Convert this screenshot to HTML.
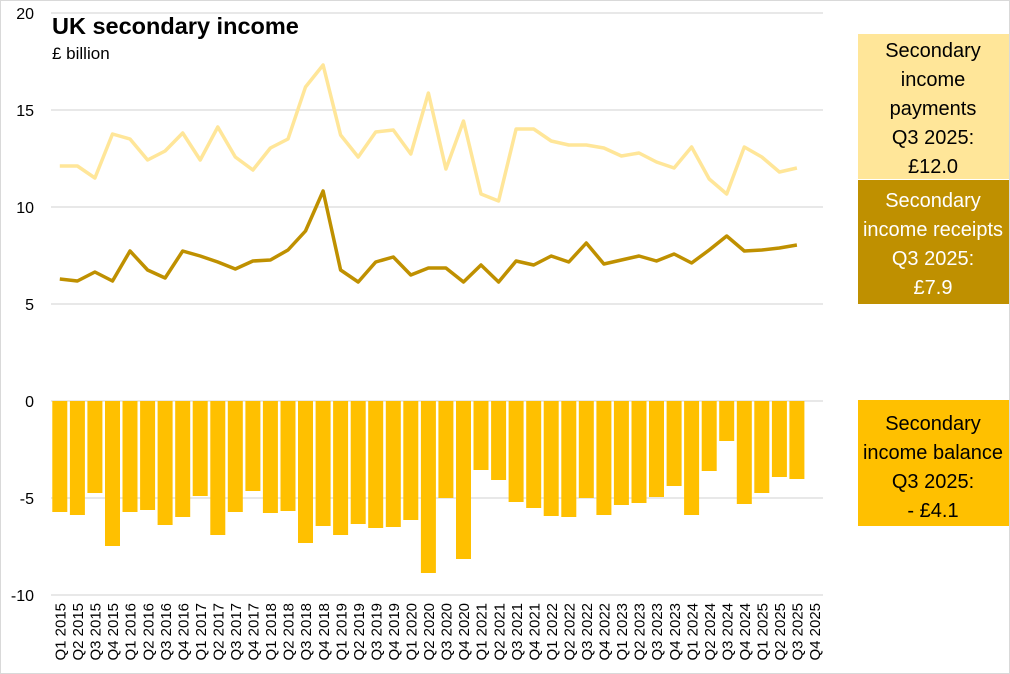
<!DOCTYPE html>
<html><head><meta charset="utf-8"><style>
body{margin:0;background:#fff;overflow:hidden;}
svg{display:block;font-family:"Liberation Sans",sans-serif;}
</style></head><body>
<svg width="1010" height="674" viewBox="0 0 1010 674" xmlns="http://www.w3.org/2000/svg">
<rect x="0.5" y="0.5" width="1009" height="673" fill="#fff" stroke="#d9d9d9"/>
<g stroke="#d9d9d9" stroke-width="1.3">
<line x1="51" x2="823" y1="13" y2="13"/><line x1="51" x2="823" y1="110" y2="110"/>
<line x1="51" x2="823" y1="207" y2="207"/><line x1="51" x2="823" y1="304" y2="304"/>
<line x1="51" x2="823" y1="401" y2="401"/><line x1="51" x2="823" y1="498" y2="498"/>
<line x1="51" x2="823" y1="595" y2="595"/>
</g>
<g font-size="16" fill="#000" text-anchor="end">
<text x="34" y="19">20</text><text x="34" y="116">15</text><text x="34" y="213">10</text>
<text x="34" y="310">5</text><text x="34" y="407">0</text><text x="34" y="504">-5</text><text x="34" y="601">-10</text>
</g>
<text x="52" y="34" font-size="23.5" font-weight="bold">UK secondary income</text>
<text x="52" y="59" font-size="17">£ billion</text>
<g fill="#FFC000">
<rect x="52.3" y="401" width="15" height="111"/><rect x="69.9" y="401" width="15" height="114"/>
<rect x="87.4" y="401" width="15" height="92"/><rect x="105" y="401" width="15" height="145"/>
<rect x="122.5" y="401" width="15" height="111"/><rect x="140.1" y="401" width="15" height="109"/>
<rect x="157.6" y="401" width="15" height="124"/><rect x="175.2" y="401" width="15" height="116"/>
<rect x="192.7" y="401" width="15" height="95"/><rect x="210.3" y="401" width="15" height="134"/>
<rect x="227.8" y="401" width="15" height="111"/><rect x="245.4" y="401" width="15" height="90"/>
<rect x="262.9" y="401" width="15" height="112"/><rect x="280.5" y="401" width="15" height="110"/>
<rect x="298" y="401" width="15" height="142"/><rect x="315.6" y="401" width="15" height="125"/>
<rect x="333.1" y="401" width="15" height="134"/><rect x="350.7" y="401" width="15" height="123"/>
<rect x="368.2" y="401" width="15" height="127"/><rect x="385.8" y="401" width="15" height="126"/>
<rect x="403.3" y="401" width="15" height="119"/><rect x="420.9" y="401" width="15" height="172"/>
<rect x="438.4" y="401" width="15" height="97"/><rect x="456" y="401" width="15" height="158"/>
<rect x="473.5" y="401" width="15" height="69"/><rect x="491.1" y="401" width="15" height="79"/>
<rect x="508.6" y="401" width="15" height="101"/><rect x="526.2" y="401" width="15" height="107"/>
<rect x="543.7" y="401" width="15" height="115"/><rect x="561.3" y="401" width="15" height="116"/>
<rect x="578.8" y="401" width="15" height="97"/><rect x="596.4" y="401" width="15" height="114"/>
<rect x="613.9" y="401" width="15" height="104"/><rect x="631.5" y="401" width="15" height="102"/>
<rect x="649" y="401" width="15" height="96"/><rect x="666.6" y="401" width="15" height="85"/>
<rect x="684.1" y="401" width="15" height="114"/><rect x="701.7" y="401" width="15" height="70"/>
<rect x="719.2" y="401" width="15" height="40"/><rect x="736.8" y="401" width="15" height="103"/>
<rect x="754.3" y="401" width="15" height="92"/><rect x="771.9" y="401" width="15" height="76"/>
<rect x="789.4" y="401" width="15" height="78"/>
</g>
<polyline fill="none" stroke="#FFE699" stroke-width="3.5" stroke-linejoin="round" points="59.8,166 77.4,166 94.9,178 112.5,134 130,139 147.6,160 165.1,151 182.7,133 200.2,160 217.8,127 235.3,157 252.9,170 270.4,148 288,139 305.5,87 323.1,65 340.6,135 358.2,157 375.7,132 393.3,130 410.8,154 428.4,93 445.9,169 463.5,121 481,194 498.6,201 516.1,129 533.7,129 551.2,141 568.8,145 586.3,145 603.9,148 621.4,156 639,153 656.5,162 674.1,168 691.6,147 709.2,179 726.7,194 744.3,147 761.8,157 779.4,172 796.9,168"/>
<polyline fill="none" stroke="#BF9000" stroke-width="3.5" stroke-linejoin="round" points="59.8,279 77.4,281 94.9,272 112.5,281 130,251 147.6,270 165.1,278 182.7,251 200.2,256 217.8,262 235.3,269 252.9,261 270.4,260 288,250 305.5,231 323.1,191 340.6,270 358.2,282 375.7,262 393.3,257 410.8,275 428.4,268 445.9,268 463.5,282 481,265 498.6,282 516.1,261 533.7,265 551.2,256 568.8,262 586.3,243 603.9,264 621.4,260 639,256 656.5,261 674.1,254 691.6,263 709.2,250 726.7,236 744.3,251 761.8,250 779.4,248 796.9,245"/>
<g font-size="15" fill="#000" text-anchor="end">
<text transform="translate(65.5,603) rotate(-90)">Q1 2015</text><text transform="translate(83.1,603) rotate(-90)">Q2 2015</text>
<text transform="translate(100.6,603) rotate(-90)">Q3 2015</text><text transform="translate(118.2,603) rotate(-90)">Q4 2015</text>
<text transform="translate(135.7,603) rotate(-90)">Q1 2016</text><text transform="translate(153.3,603) rotate(-90)">Q2 2016</text>
<text transform="translate(170.8,603) rotate(-90)">Q3 2016</text><text transform="translate(188.4,603) rotate(-90)">Q4 2016</text>
<text transform="translate(205.9,603) rotate(-90)">Q1 2017</text><text transform="translate(223.5,603) rotate(-90)">Q2 2017</text>
<text transform="translate(241,603) rotate(-90)">Q3 2017</text><text transform="translate(258.6,603) rotate(-90)">Q4 2017</text>
<text transform="translate(276.1,603) rotate(-90)">Q1 2018</text><text transform="translate(293.7,603) rotate(-90)">Q2 2018</text>
<text transform="translate(311.2,603) rotate(-90)">Q3 2018</text><text transform="translate(328.8,603) rotate(-90)">Q4 2018</text>
<text transform="translate(346.3,603) rotate(-90)">Q1 2019</text><text transform="translate(363.9,603) rotate(-90)">Q2 2019</text>
<text transform="translate(381.4,603) rotate(-90)">Q3 2019</text><text transform="translate(399,603) rotate(-90)">Q4 2019</text>
<text transform="translate(416.5,603) rotate(-90)">Q1 2020</text><text transform="translate(434.1,603) rotate(-90)">Q2 2020</text>
<text transform="translate(451.6,603) rotate(-90)">Q3 2020</text><text transform="translate(469.2,603) rotate(-90)">Q4 2020</text>
<text transform="translate(486.7,603) rotate(-90)">Q1 2021</text><text transform="translate(504.3,603) rotate(-90)">Q2 2021</text>
<text transform="translate(521.8,603) rotate(-90)">Q3 2021</text><text transform="translate(539.4,603) rotate(-90)">Q4 2021</text>
<text transform="translate(556.9,603) rotate(-90)">Q1 2022</text><text transform="translate(574.5,603) rotate(-90)">Q2 2022</text>
<text transform="translate(592,603) rotate(-90)">Q3 2022</text><text transform="translate(609.6,603) rotate(-90)">Q4 2022</text>
<text transform="translate(627.1,603) rotate(-90)">Q1 2023</text><text transform="translate(644.7,603) rotate(-90)">Q2 2023</text>
<text transform="translate(662.2,603) rotate(-90)">Q3 2023</text><text transform="translate(679.8,603) rotate(-90)">Q4 2023</text>
<text transform="translate(697.3,603) rotate(-90)">Q1 2024</text><text transform="translate(714.9,603) rotate(-90)">Q2 2024</text>
<text transform="translate(732.4,603) rotate(-90)">Q3 2024</text><text transform="translate(750,603) rotate(-90)">Q4 2024</text>
<text transform="translate(767.5,603) rotate(-90)">Q1 2025</text><text transform="translate(785.1,603) rotate(-90)">Q2 2025</text>
<text transform="translate(802.6,603) rotate(-90)">Q3 2025</text><text transform="translate(820.2,603) rotate(-90)">Q4 2025</text>
</g>
<rect x="858" y="34" width="151" height="145" fill="#FFE699"/>
<rect x="858" y="180" width="151" height="124" fill="#BF9000"/>
<rect x="858" y="400" width="151" height="126" fill="#FFC000"/>
<g font-size="20" text-anchor="middle">
<g fill="#000"><text x="933" y="57">Secondary</text><text x="933" y="86">income</text><text x="933" y="115">payments</text><text x="933" y="144">Q3 2025:</text><text x="933" y="173">£12.0</text></g>
<g fill="#fff"><text x="933" y="207">Secondary</text><text x="933" y="236">income receipts</text><text x="933" y="265">Q3 2025:</text><text x="933" y="294">£7.9</text></g>
<g fill="#000"><text x="933" y="430">Secondary</text><text x="933" y="459">income balance</text><text x="933" y="488">Q3 2025:</text><text x="933" y="517">- £4.1</text></g>
</g>
</svg>
</body></html>
